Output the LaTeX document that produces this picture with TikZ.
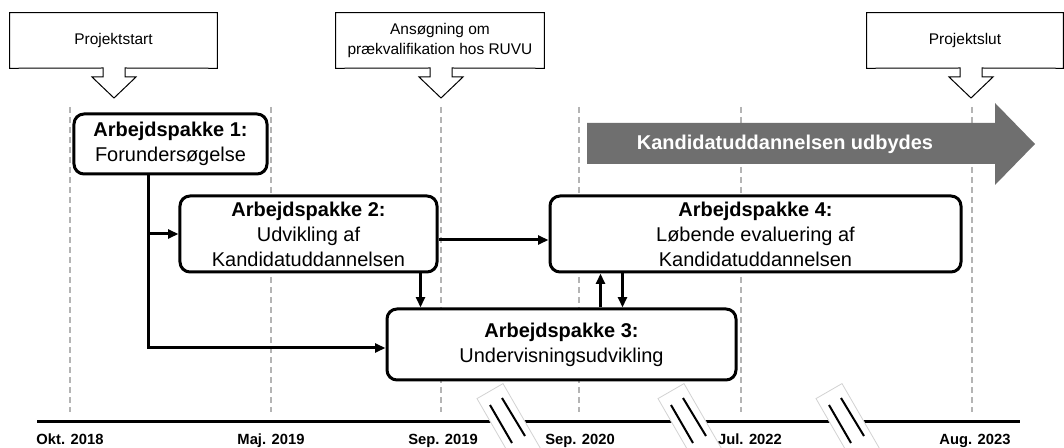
\documentclass[tikz,border=0pt]{standalone}
\usepackage{fontspec}
\setmainfont{Liberation Sans}
\usepackage{xcolor}
\usetikzlibrary{arrows.meta}
\definecolor{bargrey}{HTML}{6F6F6F}
\definecolor{gridgrey}{HTML}{B4B4B4}

\begin{document}
\begin{tikzpicture}[x=0.25mm,y=-0.25mm,>={Triangle[length=2.6mm,width=2.2mm]},
  wp box/.style={draw,rounded corners=2.5mm,line width=0.75mm,fill=white,align=center,inner sep=0pt,font=\fontsize{14.2}{17.8}\selectfont},
  call box/.style={align=center,inner sep=0pt,minimum height=13.75mm,font=\fontsize{11}{14.2}\selectfont},
  date label/.style={anchor=base,font=\bfseries\fontsize{10.5}{12}\selectfont}]
\tikzstyle{conn} = [draw,line width=0.75mm,->]
\tikzstyle{grid line} = [draw=gridgrey,line width=0.5mm,dash pattern=on 1.5mm off 1mm]
\useasboundingbox (0,0) rectangle (1064,448);

% Dashed month lines
\foreach \x in {70,271,441,579,741,972}
  \draw[grid line] (\x,107) -- (\x,412);

% Grey arrow
\fill[bargrey] (587,123) -- (995,123) -- (995,103) -- (1035,144) -- (995,185) -- (995,164) -- (587,164) -- cycle;
\node[text=white,font=\bfseries\fontsize{14.2}{17}\selectfont] (offer) at (785,144) {Kandidatuddannelsen udbydes};

% Work packages
\node[wp box,minimum width=48.25mm,minimum height=15mm] (wp1) at (170.5,144) {\textbf{Arbejdspakke 1:}\\Forundersøgelse};
\node[wp box,minimum width=64.25mm,minimum height=19mm] (wp2) at (308.5,234) {\textbf{Arbejdspakke 2:}\\Udvikling af\\Kandidatuddannelsen};
\node[wp box,minimum width=87.25mm,minimum height=17.75mm] (wp3) at (561.5,344.5) {\textbf{Arbejdspakke 3:}\\Undervisningsudvikling};
\node[wp box,minimum width=102.75mm,minimum height=19mm] (wp4) at (755.5,234) {\textbf{Arbejdspakke 4:}\\Løbende evaluering af\\Kandidatuddannelsen};

% Connectors
\path ([xshift=-5.625mm]wp1.south) coordinate (trunk);
\path ([xshift=-4.5mm]wp2.south east) coordinate (d23);
\path ([xshift=13mm]wp4.south west) coordinate (u34);
\path ([xshift=18.5mm]wp4.south west) coordinate (d43);
\draw[conn] (trunk) |- ([yshift=-0.875mm]wp3.west);
\draw[conn] (trunk |- wp2.west) -- (wp2.west);
\draw[conn] ([yshift=-1.5mm]wp2.east) -- ([yshift=-1.5mm]wp4.west);
\draw[conn] (d23) -- (d23 |- wp3.north);
\draw[conn] (u34 |- wp3.north) -- (u34);
\draw[conn] (d43) -- (d43 |- wp3.north);

% Milestones
\node[call box,minimum width=51.75mm] (start) at (113.5,40.5) {Projektstart};
\node[call box,minimum width=52mm] (ruvu) at (440,40.5) {Ansøgning om\\prækvalifikation hos RUVU};
\node[call box,minimum width=49mm] (slut) at (965,40.5) {Projektslut};
\foreach \n/\x in {start/114,ruvu/441,slut/971}
  \draw[line width=0.25mm,line join=miter] (\n.south west) -- (\n.north west) -- (\n.north east) -- (\n.south east)
    -- (\x+11,68) -- (\x+11,77) -- (\x+22,77) -- (\x,98) -- (\x-22,77) -- (\x-11,77) -- (\x-11,68) -- cycle;

% Time axis
\draw[line width=0.75mm] (37,422) -- (1020,422);
\foreach \c in {509,690,848} {
  \filldraw[fill=white,draw=gray!35,line width=0.2mm] (\c+32,449.4) -- (\c+6,464.4) -- (\c-32,398.6) -- (\c-6,383.6) -- cycle;
  \draw[line width=0.5mm] (\c-19,405) -- (\c+3,443);
  \draw[line width=0.5mm] (\c-7,398) -- (\c+16,436);
}
\node[date label] (okt18) at (70,444.5) {Okt. 2018};
\node[date label] (maj19) at (271,444.5) {Maj. 2019};
\node[date label] (sep19) at (443,444.5) {Sep. 2019};
\node[date label] (sep20) at (580,444.5) {Sep. 2020};
\node[date label] (jul22) at (750,444.5) {Jul. 2022};
\node[date label] (aug23) at (975,444.5) {Aug. 2023};

\end{tikzpicture}
\end{document}
